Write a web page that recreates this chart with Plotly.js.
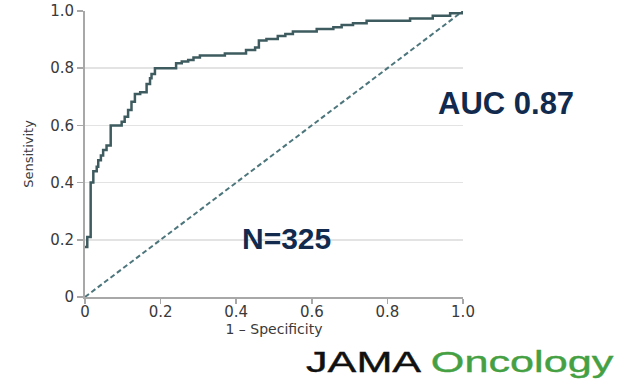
<!DOCTYPE html>
<html>
<head>
<meta charset="utf-8">
<script src="https://cdn.plot.ly/plotly-3.0.1.min.js"></script>
<style>
html,body{margin:0;padding:0;background:#fff;}
#chart{width:621px;height:381px;}
</style>
</head>
<body>
<div id="chart"></div>
<script>
// ROC curve step points (1 - specificity, sensitivity)
const fpr = [0, 0.006, 0.015, 0.022, 0.031, 0.035, 0.042, 0.048, 0.057, 0.068,
  0.097, 0.105, 0.114, 0.123, 0.132, 0.146, 0.163, 0.172, 0.176, 0.185,
  0.241, 0.256, 0.273, 0.287, 0.304, 0.370, 0.426, 0.450, 0.460, 0.480,
  0.510, 0.530, 0.550, 0.613, 0.657, 0.679, 0.709, 0.745, 0.860, 0.920,
  0.966, 1.0];
const tpr = [0.175, 0.21, 0.40, 0.44, 0.455, 0.478, 0.495, 0.514, 0.53, 0.60,
  0.613, 0.63, 0.654, 0.683, 0.71, 0.716, 0.745, 0.765, 0.78, 0.80,
  0.817, 0.823, 0.829, 0.837, 0.844, 0.851, 0.864, 0.872, 0.897, 0.902,
  0.913, 0.92, 0.928, 0.937, 0.943, 0.951, 0.957, 0.966, 0.974, 0.983,
  0.992, 1.0];
const refX = [0, 1];
const refY = [0, 1];
const tickVals = [0, 0.2, 0.4, 0.6, 0.8, 1.0];
const tickText = ['0', '0.2', '0.4', '0.6', '0.8', '1.0'];
const aucText = 'AUC 0.87';
const nText = 'N=325';
const xTitle = '1 \u2013 Specificity';
const yTitle = 'Sensitivity';

const traces = [
  {x: refX, y: refY, mode: 'lines', type: 'scatter',
   line: {color: '#4c767c', width: 2, dash: '5px,3px'}, hoverinfo: 'skip', cliponaxis: false},
  {x: fpr, y: tpr, mode: 'lines', type: 'scatter',
   line: {color: '#3e5c60', width: 2.5, shape: 'hv'}, hoverinfo: 'skip', cliponaxis: false}
];

const tickFont = {family: 'DejaVu Sans, Verdana, sans-serif', size: 15, color: '#3a3a3a'};
const titleFont = {family: 'DejaVu Sans, Verdana, sans-serif', size: 14, color: '#3a3a3a'};

const layout = {
  width: 621, height: 381,
  margin: {l: 85, r: 158, t: 11, b: 84},
  paper_bgcolor: '#fff', plot_bgcolor: '#fff',
  showlegend: false,
  font: tickFont,
  xaxis: {
    range: [0, 1], tickvals: tickVals, ticktext: tickText, tickfont: tickFont,
    showgrid: false, zeroline: false, showline: true, linecolor: '#a8a8a8', linewidth: 2,
    ticks: 'outside', ticklen: 5, tickcolor: '#a8a8a8', tickwidth: 1.5,
    ticklabelstandoff: -5,
    title: {text: xTitle, font: titleFont, standoff: 2}, automargin: false
  },
  yaxis: {
    range: [0, 1], tickvals: tickVals, ticktext: tickText, tickfont: tickFont,
    showgrid: true, gridcolor: '#e3e3e3', gridwidth: 1.5, zeroline: false,
    showline: true, linecolor: '#a8a8a8', linewidth: 2,
    ticks: 'outside', ticklen: 6, tickcolor: '#a8a8a8', tickwidth: 1.5,
    title: {text: yTitle, font: {family: 'DejaVu Sans, Verdana, sans-serif', size: 13, color: '#3a3a3a'}, standoff: 14},
    automargin: false
  },
  annotations: [
    {text: aucText, xref: 'paper', yref: 'paper', x: 1.114, y: 0.678, showarrow: false,
     xanchor: 'center', yanchor: 'middle',
     font: {family: 'Liberation Sans, Arial, sans-serif', size: 31, color: '#112a4d', weight: 'bold'}},
    {text: nText, xref: 'paper', yref: 'paper', x: 0.532, y: 0.203, showarrow: false,
     xanchor: 'center', yanchor: 'middle',
     font: {family: 'Liberation Sans, Arial, sans-serif', size: 30, color: '#112a4d', weight: 'bold'}},
    {text: 'JAMA <span style="color:#45a043">Oncology</span>', xref: 'paper', yref: 'paper',
     x: 0.992, y: -0.227, showarrow: false, xanchor: 'center', yanchor: 'middle',
     font: {family: 'Liberation Sans, Arial, sans-serif', size: 30, color: '#111111'}}
  ]
};

Plotly.newPlot('chart', traces, layout, {displayModeBar: false, staticPlot: true}).then(function (gd) {
  const t = gd.querySelector('g.annotation[data-index="2"] text.annotation-text');
  if (t) {
    t.style.transformBox = 'fill-box';
    t.style.transformOrigin = 'center';
    t.style.transform = 'scaleX(1.44)';
    t.style.stroke = 'currentColor';
  }
  const spans = gd.querySelectorAll('g.annotation[data-index="2"] text.annotation-text tspan');
  spans.forEach(function (s) {
    const f = s.style.fill || s.getAttribute('fill');
    if (f) { s.style.stroke = f; }
  });
  if (t) {
    t.style.stroke = '#111111';
    t.style.strokeWidth = '0.4px';
  }
});
</script>
</body>
</html>
